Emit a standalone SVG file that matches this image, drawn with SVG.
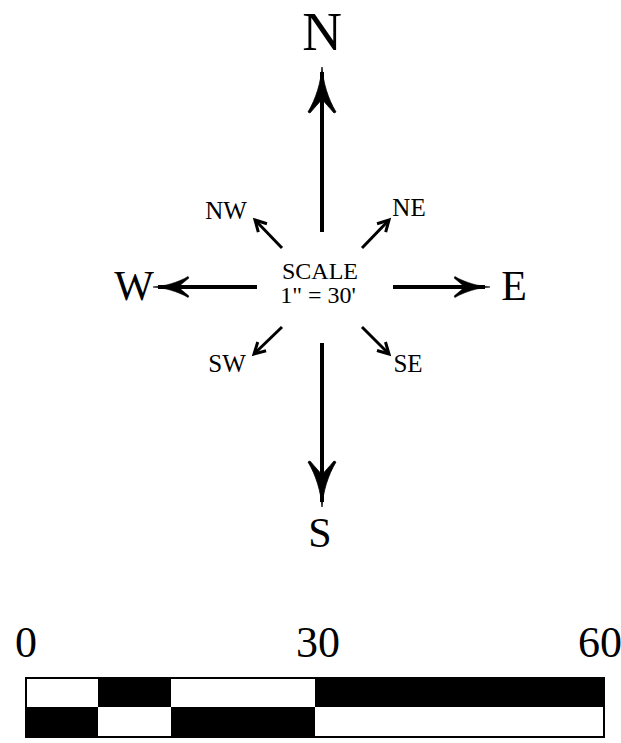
<svg xmlns="http://www.w3.org/2000/svg" width="621" height="743" viewBox="0 0 621 743">
<style>
text{font-family:"Liberation Serif","Times New Roman",serif;fill:#000;text-anchor:middle}
.shaft{stroke:#000;stroke-width:4;fill:none}
.diag{stroke:#000;stroke-width:3;fill:none;marker-end:url(#sm)}
.head{fill:#000;stroke:#000;stroke-width:0.8}
.blk{fill:#000}
.wht{fill:#fff}
.dl{font-size:25px}
.sc{font-size:24px}
</style>
<defs>
<path id="ah" d="M0,0 C-1,15 -6,32 -14,45 L-12,46 C-7,40 -3,36 0,32 C3,36 7,40 12,46 L14,45 C6,32 1,15 0,0 Z"/>
<marker id="sm" markerUnits="userSpaceOnUse" markerWidth="20" markerHeight="20" refX="0" refY="0" viewBox="-14 -10 20 20" orient="auto" overflow="visible">
<path d="M-11,-6 L0,0 L-11,6" fill="none" stroke="#000" stroke-width="3"/>
</marker>
</defs>
<g id="connectors">
<line class="shaft" x1="322" y1="72" x2="322" y2="232"/>
<use href="#ah" class="head" transform="translate(322,67)"/>
<line class="shaft" x1="322" y1="343" x2="322" y2="502"/>
<use href="#ah" class="head" transform="translate(322,507) rotate(180)"/>
<line class="shaft" x1="158" y1="287" x2="257" y2="287"/>
<use href="#ah" class="head" transform="translate(153,287) rotate(-90) scale(0.75,0.78)"/>
<line class="shaft" x1="393" y1="287" x2="485" y2="287"/>
<use href="#ah" class="head" transform="translate(490,287) rotate(90) scale(0.75,0.78)"/>
<line class="diag" x1="282" y1="248" x2="255" y2="220"/>
<line class="diag" x1="362" y1="248" x2="389" y2="220"/>
<line class="diag" x1="282" y1="327" x2="254" y2="354"/>
<line class="diag" x1="362" y1="327" x2="389" y2="354"/>
</g>
<g id="N"><text x="322" y="50" font-size="55">N</text></g>
<g id="S"><text x="320" y="547" font-size="42">S</text></g>
<g id="W"><text x="134" y="300" font-size="42">W</text></g>
<g id="E"><text x="514" y="300" font-size="42">E</text></g>
<g id="NW"><text class="dl" x="226" y="219">NW</text></g>
<g id="NE"><text class="dl" x="409" y="216">NE</text></g>
<g id="SW"><text class="dl" x="227" y="372">SW</text></g>
<g id="SE"><text class="dl" x="408" y="372">SE</text></g>
<g id="scale-label">
<text class="sc" x="320" y="279">SCALE</text>
<text class="sc" x="318" y="303">1" = 30'</text>
</g>
<g id="scalebar">
<rect class="wht" x="26" y="678" width="72" height="29"/>
<rect class="blk" x="98" y="678" width="73" height="29"/>
<rect class="wht" x="171" y="678" width="144" height="29"/>
<rect class="blk" x="315" y="678" width="289" height="29"/>
<rect class="blk" x="26" y="707" width="72" height="30"/>
<rect class="wht" x="98" y="707" width="73" height="30"/>
<rect class="blk" x="171" y="707" width="144" height="30"/>
<rect class="wht" x="315" y="707" width="289" height="30"/>
<rect x="26" y="678" width="578" height="59" fill="none" stroke="#000" stroke-width="2"/>
<text x="26" y="657" font-size="44">0</text>
<text x="318" y="657" font-size="44">30</text>
<text x="600" y="657" font-size="44">60</text>
</g>
</svg>
